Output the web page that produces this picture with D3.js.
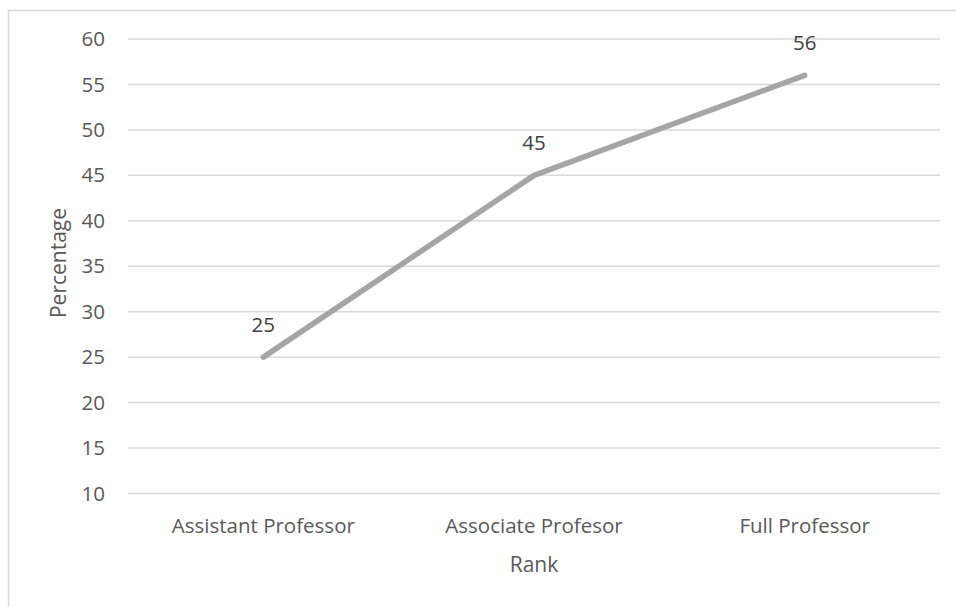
<!DOCTYPE html>
<html>
<head>
<meta charset="utf-8">
<script src="https://cdn.jsdelivr.net/npm/d3@7"></script>
<style>
  html, body { margin: 0; padding: 0; background: #fff; }
  svg { display: block; font-family: "Open Sans", "Noto Sans", sans-serif; }
</style>
</head>
<body>
<svg id="chart" width="956" height="607"></svg>
<script>
// Share of faculty by academic rank
const ranks = ["Assistant Professor", "Associate Profesor", "Full Professor"];
const percentages = [25, 45, 56];
const yTicks = [10, 15, 20, 25, 30, 35, 40, 45, 50, 55, 60];
const xTitle = "Rank";
const yTitle = "Percentage";

const svg = d3.select("#chart");
const W = 956, H = 607;
const plot = { left: 128, right: 940, top: 39, bottom: 493.5 };
const FONT = "20.5px";
const TITLE_FONT = "21px";

// outer chart frame
svg.append("rect")
  .attr("x", 8.5).attr("y", 10.5)
  .attr("width", W + 10).attr("height", H + 10)
  .attr("fill", "#fff").attr("stroke", "#d9d9d9").attr("stroke-width", 1.5);

const x = d3.scaleBand().domain(ranks).range([plot.left, plot.right]).padding(0);
const y = d3.scaleLinear().domain([10, 60]).range([plot.bottom, plot.top]);

// horizontal gridlines
svg.append("g")
  .selectAll("line")
  .data(yTicks)
  .join("line")
  .attr("x1", plot.left).attr("x2", plot.right)
  .attr("y1", d => y(d)).attr("y2", d => y(d))
  .attr("stroke", "#d9d9d9").attr("stroke-width", 1.5);

// y axis labels
const yAxis = d3.axisLeft(y).tickValues(yTicks).tickSize(0).tickPadding(23);
const gy = svg.append("g").attr("transform", `translate(${plot.left},0)`).call(yAxis);
gy.select(".domain").remove();
gy.selectAll("text").attr("fill", "#595959").style("font-size", FONT)
  .style("font-family", "'Open Sans', sans-serif");

// x axis labels
const xAxis = d3.axisBottom(x).tickSize(0).tickPadding(25);
const gx = svg.append("g").attr("transform", `translate(0,${plot.bottom})`).call(xAxis);
gx.select(".domain").remove();
gx.selectAll("text").attr("fill", "#595959").style("font-size", FONT)
  .style("font-family", "'Open Sans', sans-serif");

// axis titles
svg.append("text")
  .attr("x", x(ranks[1]) + x.bandwidth() / 2).attr("y", 572)
  .attr("text-anchor", "middle").attr("fill", "#595959")
  .style("font-size", TITLE_FONT).text(xTitle);

svg.append("text")
  .attr("transform", `translate(66,263) rotate(-90)`)
  .attr("text-anchor", "middle").attr("fill", "#595959")
  .style("font-size", TITLE_FONT).text(yTitle);

// series line
const line = d3.line()
  .x((d, i) => x(ranks[i]) + x.bandwidth() / 2)
  .y(d => y(d));

svg.append("path")
  .datum(percentages)
  .attr("d", line)
  .attr("fill", "none")
  .attr("stroke", "#a5a5a5")
  .attr("stroke-width", 5.5)
  .attr("stroke-linecap", "round")
  .attr("stroke-linejoin", "round");

// data labels
svg.append("g")
  .selectAll("text")
  .data(percentages)
  .join("text")
  .attr("x", (d, i) => x(ranks[i]) + x.bandwidth() / 2)
  .attr("y", d => y(d) - 25)
  .attr("text-anchor", "middle")
  .attr("fill", "#404040")
  .style("font-size", FONT)
  .text(d => d3.format(".0f")(d));
</script>
</body>
</html>
